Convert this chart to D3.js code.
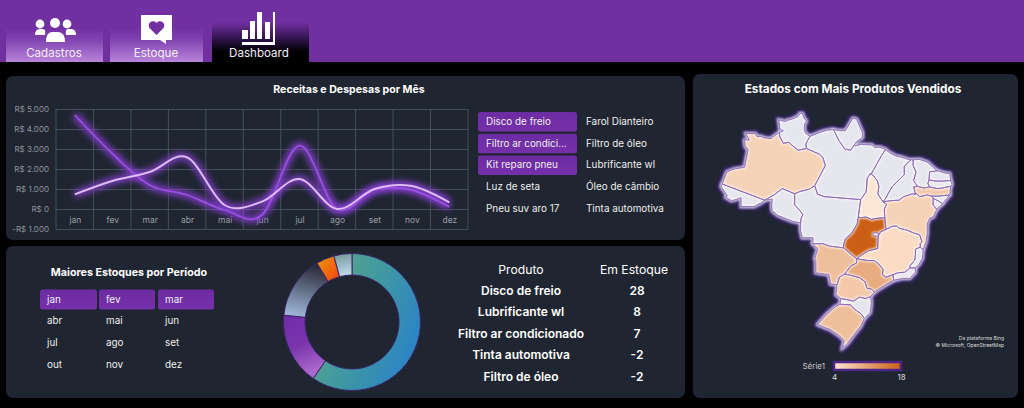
<!DOCTYPE html>
<html><head><meta charset="utf-8">
<script src="https://cdn.jsdelivr.net/npm/d3@7"></script>
<style>
html,body{margin:0;padding:0;background:#000;overflow:hidden}
svg{display:block}
text{font-family:Inter,"Open Sans",sans-serif}
</style></head><body>
<svg id="c" width="1024" height="408"></svg>
<script>
// ---------- data ----------
const months=["jan","fev","mar","abr","mai","jun","jul","ago","set","nov","dez"];
const seriesDark=[4700,2780,1200,700,-50,-300,3170,0,950,950,100];
const seriesLight=[730,1400,1850,2580,200,370,1500,0,1000,1150,330];
const yTicks=[5000,4000,3000,2000,1000,0,-1000];
const productsCol1=["Disco de freio","Filtro ar condici...","Kit reparo pneu","Luz de seta","Pneu suv aro 17"];
const productsCol2=["Farol Dianteiro","Filtro de óleo","Lubrificante wl","Óleo de câmbio","Tinta automotiva"];
const selectedProducts=["Disco de freio","Filtro ar condici...","Kit reparo pneu"];
const periods=["jan","fev","mar","abr","mai","jun","jul","ago","set","out","nov","dez"];
const selectedPeriods=["jan","fev","mar"];
const tableProducts=["Disco de freio","Lubrificante wl","Filtro ar condicionado","Tinta automotiva","Filtro de óleo"];
const tableStock=[28,8,7,-2,-2];
const stateNames=["AC","AM","RR","RO","MT","MS","PA","AP","MA","TO","GO","DF","MG","ES","RJ","SP","PR","SC","RS","BA","SE","AL","PE","PB","RN","CE","PI"];
const stateValues=[null,6,null,null,null,8,null,null,null,4,18,null,5,null,null,10,7,null,8,6,null,null,7,null,null,null,null];
const stateRings=[
[[-70.6,-11],[-69.6,-11],[-68.4,-11],[-67.1,-10.3],[-66.6,-9.9],[-73.8,-7.1],[-74,-7.5],[-72.9,-9.2],[-73.2,-9.4],[-72.2,-10],[-70.6,-9.5]],
[[-69.8,1.7],[-68.2,1.7],[-67.9,1.2],[-67.1,1.2],[-66.9,1],[-65.5,.8],[-65.2,1.1],[-64.1,1.9],[-64,1.1],[-63.4,0],[-62.5,.2],[-62,-.3],[-60.9,-1.2],[-59.5,-.9],[-57.3,-1.9],[-56.7,-2.5],[-56.3,-3.9],[-58.1,-7.4],[-59,-8],[-60.6,-8.4],[-61.5,-8.8],[-63.6,-7.9],[-65,-9],[-66.6,-9.9],[-73.8,-7.1],[-73,-5],[-71.8,-4.5],[-70,-4.2],[-69.4,-1.1],[-69.9,-.5],[-70,.6],[-69.2,.6]],
[[-60.2,5.2],[-59.9,4.4],[-59.5,3.9],[-59.8,3.4],[-59.9,2.6],[-59.7,1.8],[-58.9,1.2],[-59.3,.5],[-59.6,-.1],[-59.5,-.9],[-60.9,-1.2],[-62,-.3],[-62.5,.2],[-63.4,0],[-64,1.1],[-64.1,1.9],[-63.4,2.2],[-64,2.5],[-64.2,4.1],[-63,3.8],[-62.8,4],[-62,4.2],[-60.9,4.7],[-60.6,5.2]],
[[-66.6,-9.9],[-65.3,-9.7],[-65.4,-10.9],[-65.3,-11.7],[-64.4,-12.5],[-62.9,-13.1],[-61.9,-13.5],[-60.5,-13.8],[-60.4,-13],[-60.1,-12.4],[-60.7,-11.6],[-61.5,-10.7],[-61.5,-9.7],[-61.5,-8.8],[-63.6,-7.9],[-65,-9]],
[[-58.1,-7.4],[-57.6,-8.9],[-56.4,-9.3],[-50.3,-9.8],[-50.7,-12.8],[-50.9,-14],[-51.8,-15.5],[-52.9,-16.5],[-53.2,-17.5],[-53.2,-18],[-54,-17.9],[-55.6,-17.7],[-56.7,-17.3],[-58.4,-17.3],[-58.4,-16.3],[-60.2,-16.3],[-60.5,-15.1],[-60.5,-13.8],[-60.4,-13],[-60.1,-12.4],[-60.7,-11.6],[-61.5,-10.7],[-61.5,-9.7],[-61.5,-8.8],[-60.6,-8.4],[-59,-8]],
[[-53.2,-18],[-52,-19],[-51,-19.8],[-51,-20.5],[-52,-21],[-53,-22.3],[-53.9,-22.8],[-54.3,-24],[-55.4,-23.9],[-55.7,-22.4],[-57.9,-22.1],[-57.9,-20.1],[-58.1,-19.8],[-57.6,-18.2],[-58.4,-17.3],[-56.7,-17.3],[-55.6,-17.7],[-54,-17.9]],
[[-58.9,1.2],[-57,2],[-56,2.3],[-54.9,2.4],[-54,.5],[-53,-1],[-52,-1.2],[-51.5,-.5],[-50.2,-.2],[-48.4,-.3],[-48,-.7],[-47,-.7],[-46.1,-1.1],[-46.8,-2.2],[-47.5,-3.5],[-48.4,-5.2],[-48.7,-5.3],[-49.2,-6.2],[-49.3,-7.8],[-49.4,-8.5],[-50.3,-9.8],[-56.4,-9.3],[-57.6,-8.9],[-58.1,-7.4],[-56.3,-3.9],[-56.7,-2.5],[-57.3,-1.9],[-59.5,-.9],[-59.6,-.1],[-59.3,.5]],
[[-54.9,2.4],[-53.8,2.2],[-52.9,2.2],[-51.9,3.9],[-51.6,4.4],[-51,4.2],[-50,1.9],[-50,1],[-51,.3],[-51.5,-.5],[-52,-1.2],[-53,-1],[-54,.5]],
[[-46.1,-1.1],[-45.3,-1.7],[-44.4,-2.2],[-43.5,-2.4],[-42.3,-2.8],[-41.8,-2.9],[-42.9,-4],[-42.9,-5.5],[-43.9,-6.5],[-44.9,-7.5],[-45.5,-8.5],[-46,-9.5],[-46.5,-10.2],[-47.4,-8.8],[-47.2,-7.5],[-47.5,-6.5],[-48.2,-5.6],[-48.7,-5.3],[-48.4,-5.2],[-47.5,-3.5],[-46.8,-2.2]],
[[-48.7,-5.3],[-48.2,-5.6],[-47.5,-6.5],[-47.2,-7.5],[-47.4,-8.8],[-46.5,-10.2],[-45.9,-10.6],[-46.3,-11.5],[-46.2,-12.9],[-47.5,-13],[-48.5,-13.2],[-49.3,-12.8],[-50.3,-12.9],[-50.7,-12.8],[-50.3,-9.8],[-49.4,-8.5],[-49.3,-7.8],[-49.2,-6.2]],
[[-50.7,-12.8],[-50.3,-12.9],[-49.3,-12.8],[-48.5,-13.2],[-47.5,-13],[-46.2,-12.9],[-46,-14.9],[-46.9,-15.3],[-47.3,-16],[-47.4,-17.5],[-47.4,-18.1],[-49,-18.5],[-50.3,-19.3],[-51,-19.8],[-52,-19],[-53.2,-18],[-53.2,-17.5],[-52.9,-16.5],[-51.8,-15.5],[-50.9,-14]],
[[-48.2,-15.5],[-47.3,-15.5],[-47.3,-16],[-48.2,-16]],
[[-46,-14.9],[-45,-14.4],[-44.2,-14.3],[-43.8,-14.7],[-42.5,-15],[-41.3,-15.5],[-40.3,-15.8],[-39.9,-17],[-40.2,-17.3],[-40.2,-17.9],[-41,-18.2],[-41,-19],[-41.1,-20],[-41.7,-20.7],[-42,-21],[-41.9,-21.3],[-42.8,-22],[-44,-22.1],[-44.8,-22.4],[-46,-22.8],[-46.6,-22.4],[-46.5,-21.5],[-47.3,-20.6],[-48,-20.1],[-49,-20.1],[-51,-19.8],[-50.3,-19.3],[-49,-18.5],[-47.4,-18.1],[-47.4,-17.5],[-47.3,-16],[-46.9,-15.3]],
[[-40.2,-17.9],[-39.7,-18.3],[-39.8,-19.7],[-40.4,-20.7],[-41,-21.3],[-41.9,-21.3],[-42,-21],[-41.7,-20.7],[-41.1,-20],[-41,-19],[-41,-18.2]],
[[-41,-21.3],[-41,-22],[-42,-23],[-43.2,-23],[-44.7,-23.3],[-44.8,-22.4],[-44,-22.1],[-42.8,-22],[-41.9,-21.3]],
[[-44.8,-22.4],[-44.7,-23.3],[-46,-24],[-47.5,-24.9],[-48,-25.2],[-48.5,-24.7],[-49.2,-24.6],[-49.6,-23.5],[-50.5,-22.9],[-52,-22.5],[-53,-22.3],[-52,-21],[-51,-20.5],[-51,-19.8],[-49,-20.1],[-48,-20.1],[-47.3,-20.6],[-46.5,-21.5],[-46.6,-22.4],[-46,-22.8]],
[[-48,-25.2],[-48.6,-25.9],[-49.5,-26.2],[-50.5,-26],[-51.5,-26.6],[-53.7,-26.2],[-54.5,-25.6],[-54.3,-24],[-53.9,-22.8],[-53,-22.3],[-52,-22.5],[-50.5,-22.9],[-49.6,-23.5],[-49.2,-24.6],[-48.5,-24.7]],
[[-48.6,-25.9],[-48.5,-27],[-48.7,-28.4],[-49.7,-29.3],[-50.2,-28.6],[-51.3,-27.9],[-52,-27.2],[-53.8,-27.1],[-53.7,-26.2],[-51.5,-26.6],[-50.5,-26],[-49.5,-26.2]],
[[-49.7,-29.3],[-50.3,-30.5],[-51.5,-31.8],[-52.5,-33],[-53.4,-33.7],[-53.1,-32.6],[-53.9,-31.9],[-55.6,-30.9],[-56,-30.8],[-57.6,-30.2],[-56,-28.6],[-54.6,-27.5],[-53.8,-27.1],[-52,-27.2],[-51.3,-27.9],[-50.2,-28.6]],
[[-46,-14.9],[-46.2,-12.9],[-46.3,-11.5],[-45.9,-10.6],[-46.5,-10.2],[-45.3,-10],[-43.8,-9.9],[-43,-9.3],[-41.5,-8.8],[-41,-8.9],[-40.8,-8.8],[-40.3,-9.3],[-39,-9],[-38.2,-9.2],[-38,-9.6],[-38,-10.7],[-37.4,-11.5],[-38,-12.8],[-38.6,-13],[-39,-14],[-39,-15.5],[-39.2,-17],[-39.7,-18.3],[-40.2,-17.9],[-40.2,-17.3],[-39.9,-17],[-40.3,-15.8],[-41.3,-15.5],[-42.5,-15],[-43.8,-14.7],[-44.2,-14.3],[-45,-14.4]],
[[-38,-9.6],[-37.2,-10],[-36.4,-10.5],[-37.4,-11.5],[-38,-10.7]],
[[-38.2,-9.2],[-37,-9.2],[-35.2,-9],[-36.4,-10.5],[-37.2,-10],[-38,-9.6]],
[[-41.3,-7.6],[-40.7,-7.5],[-39.5,-7.8],[-38.6,-7.6],[-37.3,-7.9],[-36.5,-7.8],[-35,-7.5],[-35.2,-9],[-37,-9.2],[-38.2,-9.2],[-39,-9],[-40.3,-9.3],[-40.8,-8.8],[-41,-8.9]],
[[-38.7,-6.4],[-37.5,-6.6],[-36.5,-6.6],[-35,-6.5],[-34.8,-7.2],[-35,-7.5],[-36.5,-7.8],[-37.3,-7.9],[-38.6,-7.6],[-38.9,-7]],
[[-38.6,-5],[-37.3,-4.8],[-36,-5.2],[-35.2,-5.3],[-35,-6.5],[-36.5,-6.6],[-37.5,-6.6],[-38.7,-6.4]],
[[-41.4,-2.9],[-40.4,-2.8],[-39,-3.3],[-38,-4.2],[-37.3,-4.8],[-38.6,-5],[-38.7,-6.4],[-38.9,-7],[-38.6,-7.6],[-39.5,-7.8],[-40.7,-7.5],[-41.3,-6.5],[-40.9,-5],[-41.4,-3.9]],
[[-41.8,-2.9],[-41.4,-2.9],[-41.4,-3.9],[-40.9,-5],[-41.3,-6.5],[-40.7,-7.5],[-41.3,-7.6],[-41,-8.9],[-41.5,-8.8],[-43,-9.3],[-43.8,-9.9],[-45.3,-10],[-46.5,-10.2],[-46,-9.5],[-45.5,-8.5],[-44.9,-7.5],[-43.9,-6.5],[-42.9,-5.5],[-42.9,-4]]
];
const tabs=["Cadastros","Estoque","Dashboard"];

// ---------- base ----------
const svg=d3.select("#c");
const defs=svg.append("defs");
function grad(id,c,x1,y1,x2,y2){const g=defs.append("linearGradient").attr("id",id).attr("x1",x1).attr("y1",y1).attr("x2",x2).attr("y2",y2);
 c.forEach(s=>g.append("stop").attr("offset",s[0]).attr("stop-color",s[1]));}
grad("tabL",[[0,"#7230a4"],[.3,"#7d3fae"],[1,"#b884da"]],0,0,0,1);
grad("tabD",[[0,"#7230a4"],[.45,"#2b1145"],[.75,"#000"],[1,"#000"]],0,0,0,1);
grad("sl0",[[0,"#5fa784"],[.5,"#3f98a2"],[1,"#2a82c8"]],0,.2,1,.7);
grad("sl1",[[0,"#6f2da8"],[.55,"#7a35ae"],[1,"#ab68cc"]],0,0,.3,1);
grad("sl2",[[0,"#2a2b38"],[1,"#a3bce0"]],.4,0,.2,1);
grad("sl3",[[0,"#f09a10"],[1,"#f04010"]],0,0,1,1);
grad("sl4",[[0,"#6d9494"],[1,"#bcd8e8"]],0,0,.2,1);
grad("btn",[[0,"#6c2ca2"],[1,"#7630aa"]],0,0,0,1);
const fGlow=defs.append("filter").attr("id","glow").attr("x","-20%").attr("y","-40%").attr("width","140%").attr("height","180%");
fGlow.append("feGaussianBlur").attr("stdDeviation",3);
const fMap=defs.append("filter").attr("id","mapGlow").attr("x","-10%").attr("y","-10%").attr("width","120%").attr("height","120%");
fMap.append("feMorphology").attr("in","SourceAlpha").attr("operator","dilate").attr("radius",2).attr("result","d");
fMap.append("feFlood").attr("flood-color","#54269a");
fMap.append("feComposite").attr("in2","d").attr("operator","in");
fMap.append("feGaussianBlur").attr("stdDeviation",1.1).attr("result","g");
const fm=fMap.append("feMerge");fm.append("feMergeNode").attr("in","g");fm.append("feMergeNode").attr("in","SourceGraphic");
const fHalo=defs.append("filter").attr("id","halo").attr("x","-5%").attr("y","-5%").attr("width","110%").attr("height","110%");
fHalo.append("feGaussianBlur").attr("stdDeviation",.9);
const fSoft=defs.append("filter").attr("id","soft").attr("x","-5%").attr("y","-5%").attr("width","110%").attr("height","110%");
fSoft.append("feGaussianBlur").attr("stdDeviation",.35);

svg.append("rect").attr("width",1024).attr("height",408).attr("fill","#000");
svg.append("rect").attr("width",1024).attr("height",62).attr("fill","#7030a0");

// tabs
const tabBox=[[6,103,54],[110,203,156],[212,309,259]];
tabs.forEach((t,i)=>{const b=tabBox[i];
 svg.append("rect").attr("x",b[0]).attr("y",i==2?22:28).attr("width",b[1]-b[0]).attr("height",i==2?40:34).attr("fill",i==2?"url(#tabD)":"url(#tabL)");
 svg.append("text").attr("x",b[2]).attr("y",57).attr("text-anchor","middle").attr("font-size",11.6).attr("fill","#f4eefa").text(t);
});
// icons
const ic=svg.append("g").attr("fill","#fff");
[[55,23,5],[40,24,4.4],[67,24,4.4]].forEach(p=>ic.append("circle").attr("cx",p[0]).attr("cy",p[1]).attr("r",p[2]));
ic.append("path").attr("d","M35 35q0-6 5-6h3q3 0 2 6zM76 35q0-6-5-6h-3q-3 0-2 6zM46 42q0-10 6-10h6q7 0 7 10z");
ic.append("path").attr("d","M141 15h31v25h-6l0 4-6-4h-19z");
svg.append("path").attr("d","M156.5 35l-7-7a4 4 0 0 1 7-5a4 4 0 0 1 7 5z").attr("fill","#7030a0");
[[242,30,6,9],[250,21,5,18],[257,12,5,27],[265,22,5,17]].forEach(r=>ic.append("rect").attr("x",r[0]).attr("y",r[1]).attr("width",r[2]).attr("height",r[3]));
ic.append("path").attr("d","M242 42h31v-30h2v33h-33z");

// panels
[[6,76,679,164],[6,246,679,152],[693,74,325,324]].forEach(p=>svg.append("rect").attr("x",p[0]).attr("y",p[1]).attr("width",p[2]).attr("height",p[3]).attr("rx",7).attr("fill","#1f2631"));

const title=(x,y,s,t)=>svg.append("text").attr("x",x).attr("y",y).attr("text-anchor","middle").attr("font-size",s).attr("font-weight",700).attr("fill","#fff").text(t);
title(349,93,10.6,"Receitas e Despesas por Mês");
title(129,276,10.7,"Maiores Estoques por Período");
title(853,93,11.8,"Estados com Mais Produtos Vendidos");

// ---------- line chart ----------
const x=d3.scaleBand().domain(months).range([56,468]);
const y=d3.scaleLinear().domain([-1000,5000]).range([229,109]);
const cx=d=>x(d)+x.bandwidth()/2;
const fmt=v=>(v<0?"-":"")+"R$ "+(v===0?"0":d3.format(",")(Math.abs(v)).replace(/,/g,"."));
const gy=svg.append("g").attr("transform","translate(56,0)").call(d3.axisLeft(y).tickValues(yTicks).tickFormat(fmt).tickSize(-412).tickPadding(7));
gy.select(".domain").remove();
gy.selectAll("line").attr("stroke","#4d5a60").attr("stroke-width",.8);
gy.selectAll("text").attr("fill","#8f959c").attr("font-size",8);
svg.append("g").selectAll("line").data(months.concat("__end")).join("line")
 .attr("x1",d=>d==="__end"?468:x(d)).attr("x2",d=>d==="__end"?468:x(d)).attr("y1",109).attr("y2",229).attr("stroke","#4d5a60").attr("stroke-width",.8);
const gx=svg.append("g").attr("transform","translate(0.6,"+y(0)+")").call(d3.axisBottom(x).tickSize(0).tickPadding(8));
gx.select(".domain").remove();
gx.selectAll("text").attr("fill","#9a9fa6").attr("font-size",8.5);
const line=d3.line().x((d,i)=>cx(months[i])).y(d=>y(d)).curve(d3.curveCardinal.tension(0));
[seriesDark,seriesLight].forEach(s=>svg.append("path").attr("d",line(s)).attr("fill","none").attr("stroke","#8a3fd8").attr("stroke-width",7.5).attr("opacity",.85).attr("filter","url(#glow)"));
svg.append("path").attr("d",line(seriesDark)).attr("fill","none").attr("stroke","#9b4fe0").attr("stroke-width",1.8);
svg.append("path").attr("d",line(seriesLight)).attr("fill","none").attr("stroke","#dcbcf2").attr("stroke-width",2);

// ---------- slicers ----------
function slicer(items,sel,x0,y0,w,h,dy,tx,fs){
 items.forEach((t,i)=>{const yy=y0+i*dy;
  if(sel.includes(t)) svg.append("rect").attr("x",x0).attr("y",yy).attr("width",w).attr("height",h).attr("rx",2.5).attr("fill","url(#btn)");
  svg.append("text").attr("x",x0+tx).attr("y",yy+h/2+3.2).attr("font-size",fs).attr("fill","#eee").text(t);
 });
}
slicer(productsCol1,selectedProducts,478,112,99,19.5,21.7,8,9.9);
slicer(productsCol2,[],578,112,99,19.5,21.7,8,9.9);
[0,1,2].forEach(c=>slicer(periods.filter((d,i)=>i%3===c),selectedPeriods,[40,99,158][c],289.5,[57,56,56][c],20,21.7,7,9.9));

// ---------- donut ----------
const pie=d3.pie().sort(null).value(d=>Math.abs(d));
const arc=d3.arc().innerRadius(47).outerRadius(68.5);
svg.append("g").attr("transform","translate(352,322)").selectAll("path").data(pie(tableStock)).join("path")
 .attr("d",arc).attr("fill",(d,i)=>"url(#sl"+i+")").attr("stroke","#3b2468").attr("stroke-width",1);

// ---------- table ----------
const tx=[521,634];
svg.append("text").attr("x",tx[0]).attr("y",274).attr("text-anchor","middle").attr("font-size",12.2).attr("fill","#fff").text("Produto");
svg.append("text").attr("x",tx[1]).attr("y",274).attr("text-anchor","middle").attr("font-size",12.2).attr("fill","#fff").text("Em Estoque");
tableProducts.forEach((p,i)=>{const yy=294.5+i*21.5;
 svg.append("text").attr("x",tx[0]).attr("y",yy).attr("text-anchor","middle").attr("font-size",12).attr("font-weight",600).attr("fill","#fff").text(p);
 svg.append("text").attr("x",637).attr("y",yy).attr("text-anchor","middle").attr("font-size",12).attr("font-weight",600).attr("fill","#fff").text(tableStock[i]);
});

// ---------- map ----------
const color=d3.scaleLinear().domain([4,18]).range(["#fde6d3","#cc5f12"]);
const merc=l=>Math.log(Math.tan(Math.PI/4+l*Math.PI/360));
const mx=d3.scaleLinear().domain([-74,-34.8]).range([721,952]);
const my=d3.scaleLinear().domain([merc(5.3),merc(-33.7)]).range([113,348]);
const path=d3.geoPath(d3.geoTransform({point(lo,la){this.stream.point(mx(lo),my(merc(la)));}}));
const features=stateNames.map((n,i)=>({type:"Feature",properties:{name:n,value:stateValues[i]},geometry:{type:"Polygon",coordinates:[stateRings[i].concat([stateRings[i][0]])]}}));
const gm=svg.append("g").attr("filter","url(#mapGlow)");
gm.append("g").selectAll("path").data(features).join("path").attr("d",path)
 .attr("fill",d=>d.properties.value==null?"#e6e6ee":color(d.properties.value)).attr("stroke-linejoin","round");
gm.append("g").attr("filter","url(#halo)").selectAll("path").data(features).join("path").attr("d",path)
 .attr("fill","none").attr("stroke","#fff").attr("stroke-opacity",.7).attr("stroke-width",2.4);
gm.append("g").attr("filter","url(#soft)").selectAll("path").data(features).join("path").attr("d",path)
 .attr("fill","none").attr("stroke","#8d6bb8").attr("stroke-width",.9).attr("stroke-linejoin","round");

// legend
defs.append("linearGradient").attr("id","leg").selectAll("stop").data([0,1]).join("stop").attr("offset",d=>d).attr("stop-color",d=>color(4+14*d));
svg.append("rect").attr("x",834).attr("y",362).attr("width",67).attr("height",8).attr("fill","url(#leg)").attr("stroke","#4d2488").attr("stroke-width",2.5);
const legAxis=d3.scaleLinear().domain([4,18]).range([834,901]);
svg.append("g").attr("transform","translate(0,372)").call(d3.axisBottom(legAxis).tickValues([4,18]).tickSize(0).tickPadding(2)).call(g=>g.select(".domain").remove()).selectAll("text").attr("fill","#ddd").attr("font-size",8);
svg.append("text").attr("x",825).attr("y",369).attr("text-anchor","end").attr("font-size",8).attr("fill","#c8c8c8").text("Série1");
svg.append("text").attr("x",1004).attr("y",340).attr("text-anchor","end").attr("font-size",5).attr("fill","#ddd").text("Da plataforma Bing");
svg.append("text").attr("x",1004).attr("y",347).attr("text-anchor","end").attr("font-size",5).attr("fill","#ddd").text("© Microsoft, OpenStreetMap");
</script>
</body></html>
